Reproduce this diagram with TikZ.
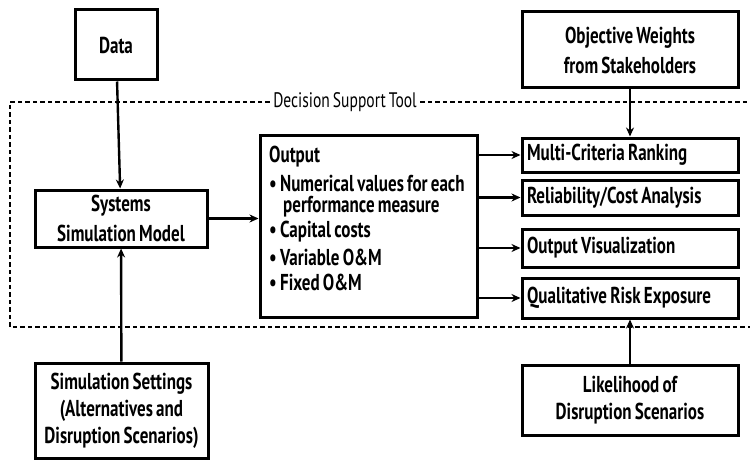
\documentclass[tikz,border=0pt]{standalone}
\usepackage{fontspec}
\setmainfont{PT Sans}[FakeStretch=0.74,WordSpace=0.75,BoldFont={PT Sans Bold},BoldFeatures={FakeStretch=0.74,WordSpace=0.75}]
\usetikzlibrary{arrows.meta}
\begin{document}
\begin{tikzpicture}[x=1pt,y=-1pt,
  box/.style={draw,line width=3pt,fill=white,align=center,font=\fontsize{23}{27}\selectfont\bfseries,inner sep=0pt},
  lbox/.style={box,minimum width=216pt,text width=206pt,align=flush left},
  conn/.style={line width=2.4pt,-{Stealth[length=9pt,width=8pt]}},
  frame/.style={line width=1.4pt,dash pattern=on 4.5pt off 3pt}]
\useasboundingbox (0,0) rectangle (750,460);
% decision support frame
\node[font=\fontsize{21}{24}\selectfont] (dst) at (345,102) {Decision Support Tool};
\draw[frame] (dst.west) -- (10,102) -- (10,327) -- (750,327);
\draw[frame] (dst.east) -- (750,102);
% input boxes
\node[box,minimum width=82pt,minimum height=70pt] (data) at (116,45) {Data};
\node[box,minimum width=172pt,minimum height=57pt] (sim) at (121,218.5) {Systems\\[3pt]Simulation Model};
\node[box,minimum width=173pt,minimum height=95pt] (set) at (121.5,410.5) {Simulation Settings\\(Alternatives and\\Disruption Scenarios)};
% output box
\node[draw,line width=3pt,fill=white,minimum width=217pt,minimum height=182pt] (out) at (368.5,226) {};
\begin{scope}[font=\fontsize{23}{27}\selectfont\bfseries,anchor=west,inner sep=0pt]
\node (o0) at (269,157) {Output};
\node (o1) at (269,183) {\textbullet\ Numerical values for each};
\node (o2) at (283,207) {performance measure};
\node (o3) at (269,232) {\textbullet\ Capital costs};
\node (o4) at (269,257) {\textbullet\ Variable O\&M};
\node (o5) at (269,282) {\textbullet\ Fixed O\&M};
\end{scope}
% analysis boxes
\node[box,minimum width=216pt,minimum height=76pt] (obj) at (630,50) {Objective Weights\\[3pt]from Stakeholders};
\node[lbox,minimum height=34pt] (mcr) at (630,155) {Multi-Criteria Ranking};
\node[lbox,minimum height=35pt] (rca) at (630,197.5) {Reliability/Cost Analysis};
\node[lbox,minimum height=38pt] (ovi) at (630,248) {Output Visualization};
\node[lbox,minimum height=40pt] (qre) at (630,298) {Qualitative Risk Exposure};
\node[box,minimum width=216pt,minimum height=70pt] (lik) at (630,400) {Likelihood of\\Disruption Scenarios};
% connectors
\draw[conn] (data) -- (sim);
\draw[conn] (set) -- (sim);
\draw[conn] (sim.east) -- (sim.east -| out.west);
\draw[conn] (obj) -- (mcr);
\draw[conn] (lik) -- (qre);
\draw[conn] (mcr.west -| out.east) -- (mcr.west);
\draw[conn] (rca.west -| out.east) -- (rca.west);
\draw[conn] (ovi.west -| out.east) -- (ovi.west);
\draw[conn] (qre.west -| out.east) -- (qre.west);
\end{tikzpicture}
\end{document}
